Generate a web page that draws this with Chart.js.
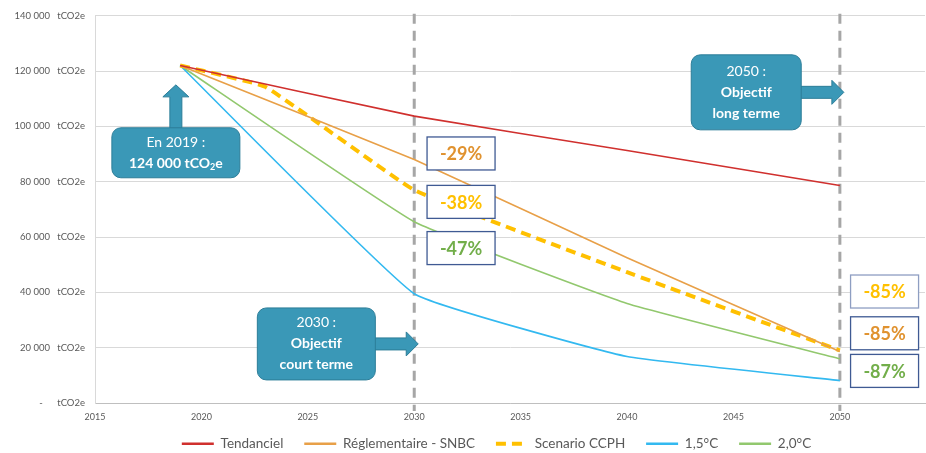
<!DOCTYPE html>
<html>
<head>
<meta charset="utf-8">
<script src="https://cdn.jsdelivr.net/npm/chart.js@4.4.0/dist/chart.umd.min.js"></script>
<style>
  html, body { margin: 0; padding: 0; background: #ffffff; }
  #wrap { width: 926px; height: 453px; }
</style>
</head>
<body>
<div id="wrap"><canvas id="myChart"></canvas></div>
<script>
// ============================================
// DATA
// ============================================

const yearsMain = [2019, 2030, 2040, 2050];
const yearsCCPH = [2019, 2023, 2030, 2040, 2050];

const tendanciel = [122000, 103700, 91300, 78600];
const reglementaire = [122000, 88000, 52500, 18600];
const scenarioCCPH = [122000, 114300, 77000, 47300, 19000];
const rechauffement15 = [122000, 39500, 16800, 8100];
const rechauffement20 = [122000, 65500, 36000, 16000];

const seriesLabels = ['Tendanciel', 'Réglementaire - SNBC', 'Scenario CCPH', '1,5°C', '2,0°C'];
const yTicks = [0, 20000, 40000, 60000, 80000, 100000, 120000, 140000];
const xTicks = [2015, 2020, 2025, 2030, 2035, 2040, 2045, 2050];
const objectiveYears = [2030, 2050];

// ============================================
// ANNOTATIONS
// ============================================

const TEAL = '#3A98B7';
const TEAL_DARK = '#2C7D98';
const ORANGE_TXT = '#E0922F';
const YELLOW = '#FFC000';
const GREEN_TXT = '#72AE4A';

const percentBoxes = [
    { text: '-29%', x: 2032.2, y: 90200, color: ORANGE_TXT, border: '#3F5A93' },
    { text: '-38%', x: 2032.2, y: 72700, color: YELLOW, border: '#3F5A93' },
    { text: '-47%', x: 2032.2, y: 56000, color: GREEN_TXT, border: '#3F5A93' },
    { text: '-85%', x: 2052.1, y: 40300, color: YELLOW, border: '#8E9EC2' },
    { text: '-85%', x: 2052.1, y: 25200, color: ORANGE_TXT, border: '#3F5A93' },
    { text: '-87%', x: 2052.1, y: 11600, color: GREEN_TXT, border: '#3F5A93' }
];

const callouts = [
    {
        x: 2018.8, y: 90450, w: 128, h: 50, arrow: 'up', tipY: 115000,
        lines: [[{ t: 'En 2019 :' }], [{ t: '124 000 tCO', b: true }, { t: '2', b: true, sub: true }, { t: 'e', b: true }]]
    },
    {
        x: 2025.4, y: 21350, w: 118, h: 72, arrow: 'right', tipX: 2030,
        lines: [[{ t: '2030 :' }], [{ t: 'Objectif', b: true }], [{ t: 'court terme', b: true }]]
    },
    {
        x: 2045.6, y: 112300, w: 110, h: 75, arrow: 'right', tipX: 2050,
        lines: [[{ t: '2050 :' }], [{ t: 'Objectif', b: true }], [{ t: 'long terme', b: true }]]
    }
];

function toPoints(xs, ys) {
    return xs.map((x, i) => ({ x: x, y: ys[i] }));
}

function fmtThousands(v) {
    return String(v).replace(/\B(?=(\d{3})+(?!\d))/g, ' ');
}

// vertical dashed lines at 2030 / 2050
const objectiveLines = {
    id: 'objectiveLines',
    beforeDatasetsDraw(chart) {
        const { ctx, chartArea, scales } = chart;
        ctx.save();
        ctx.strokeStyle = '#A6A6A6';
        ctx.lineWidth = 3;
        ctx.setLineDash([10, 7]);
        objectiveYears.forEach(yr => {
            const px = scales.x.getPixelForValue(yr);
            ctx.beginPath();
            ctx.moveTo(px, chartArea.top - 2);
            ctx.lineTo(px, chartArea.bottom + 8);
            ctx.stroke();
        });
        ctx.restore();
    }
};

// the legend sits a bit right of centre in the original
const legendShift = {
    id: 'legendShift',
    afterLayout(chart) {
        if (chart.legend) {
            chart.legend.left += 34;
            chart.legend.right += 34;
        }
    }
};

// percentage boxes + teal callouts
const annotations = {
    id: 'annotations',
    afterDraw(chart) {
        const { ctx, scales } = chart;
        const xs = scales.x, ys = scales.y;
        ctx.save();

        // percent boxes
        percentBoxes.forEach(b => {
            const cx = xs.getPixelForValue(b.x);
            const cy = ys.getPixelForValue(b.y);
            const w = 68, h = 33;
            ctx.fillStyle = '#ffffff';
            ctx.fillRect(cx - w / 2, cy - h / 2, w, h);
            ctx.strokeStyle = b.border;
            ctx.lineWidth = 1.3;
            ctx.strokeRect(cx - w / 2, cy - h / 2, w, h);
            ctx.fillStyle = b.color;
            ctx.font = 'bold 18px Lato';
            ctx.textAlign = 'center';
            ctx.textBaseline = 'middle';
            ctx.fillText(b.text, cx, cy + 1);
        });

        // teal callouts
        callouts.forEach(c => {
            const cx = xs.getPixelForValue(c.x);
            const cy = ys.getPixelForValue(c.y);
            const left = cx - c.w / 2, top = cy - c.h / 2;

            ctx.fillStyle = TEAL;
            ctx.strokeStyle = TEAL_DARK;
            ctx.lineWidth = 1;

            // arrow
            ctx.beginPath();
            if (c.arrow === 'up') {
                const tip = ys.getPixelForValue(c.tipY);
                const base = tip + 12;
                ctx.moveTo(cx - 6, top + 1);
                ctx.lineTo(cx - 6, base);
                ctx.lineTo(cx - 13, base);
                ctx.lineTo(cx, tip);
                ctx.lineTo(cx + 13, base);
                ctx.lineTo(cx + 6, base);
                ctx.lineTo(cx + 6, top + 1);
            } else {
                const tip = xs.getPixelForValue(c.tipX) + 4;
                const base = tip - 12;
                const r = left + c.w - 1;
                ctx.moveTo(r, cy - 6);
                ctx.lineTo(base, cy - 6);
                ctx.lineTo(base, cy - 12);
                ctx.lineTo(tip, cy);
                ctx.lineTo(base, cy + 12);
                ctx.lineTo(base, cy + 6);
                ctx.lineTo(r, cy + 6);
            }
            ctx.closePath();
            ctx.fill();
            ctx.stroke();

            // box
            ctx.beginPath();
            ctx.roundRect(left, top, c.w, c.h, 9);
            ctx.fill();
            ctx.stroke();

            // text
            ctx.fillStyle = '#ffffff';
            ctx.textAlign = 'left';
            ctx.textBaseline = 'middle';
            const lh = 21;
            const y0 = cy - (c.lines.length - 1) * lh / 2;
            c.lines.forEach((segs, i) => {
                const ly = y0 + i * lh;
                let total = 0;
                segs.forEach(s => {
                    ctx.font = (s.b ? 'bold ' : '') + (s.sub ? '9px' : '14px') + ' Lato';
                    total += ctx.measureText(s.t).width;
                });
                let px = cx - total / 2;
                segs.forEach(s => {
                    ctx.font = (s.b ? 'bold ' : '') + (s.sub ? '9px' : '14px') + ' Lato';
                    ctx.fillText(s.t, px, s.sub ? ly + 4 : ly);
                    px += ctx.measureText(s.t).width;
                });
            });
        });

        ctx.restore();
    }
};

// ============================================
// CREATE CHART
// ============================================

const ctx = document.getElementById('myChart');

function lineSet(label, xs, ys, color, width, dash) {
    return {
        label: label,
        data: toPoints(xs, ys),
        borderColor: color,
        backgroundColor: color,
        borderWidth: width,
        borderDash: dash || [],
        pointRadius: 0,
        pointStyle: 'line',
        tension: 0.1,
        fill: false
    };
}

new Chart(ctx, {
    type: 'line',
    data: {
        datasets: [
            lineSet(seriesLabels[0], yearsMain, tendanciel, '#D0302E', 1.6),
            lineSet(seriesLabels[1], yearsMain, reglementaire, '#E8A048', 1.6),
            lineSet(seriesLabels[2], yearsCCPH, scenarioCCPH, YELLOW, 4, [10, 6]),
            lineSet(seriesLabels[3], yearsMain, rechauffement15, '#33B9F0', 1.6),
            lineSet(seriesLabels[4], yearsMain, rechauffement20, '#92C86E', 1.6)
        ]
    },
    options: {
        responsive: true,
        maintainAspectRatio: false,
        animation: false,
        layout: {
            padding: { top: 11, right: 1, left: 0, bottom: 0 }
        },
        plugins: {
            legend: {
                position: 'bottom',
                maxHeight: 30,
                labels: {
                    usePointStyle: true,
                    pointStyleWidth: 32,
                    boxHeight: 8,
                    padding: 14,
                    color: '#595959',
                    font: { family: 'Lato', size: 13.5 },
                    generateLabels(chart) {
                        const items = Chart.defaults.plugins.legend.labels.generateLabels(chart);
                        items.forEach((it, i) => {
                            const ds = chart.data.datasets[it.datasetIndex];
                            it.lineWidth = ds.borderWidth > 2 ? 4 : 2.5;
                            it.lineDash = ds.borderDash;
                            it.strokeStyle = ds.borderColor;
                            it.fillStyle = ds.borderColor;
                            it.pointStyle = 'line';
                            if (i < items.length - 1) it.text = it.text + '  ';
                        });
                        return items;
                    }
                }
            },
            tooltip: { enabled: false }
        },
        scales: {
            x: {
                type: 'linear',
                min: 2015,
                max: 2054,
                afterBuildTicks(scale) {
                    scale.ticks = xTicks.map(v => ({ value: v }));
                },
                afterFit(scale) {
                    scale.height = 20;
                },
                ticks: {
                    color: '#595959',
                    font: { family: 'Lato', size: 9 },
                    padding: 9,
                    maxRotation: 0,
                    callback: v => String(v)
                },
                grid: { display: false, drawTicks: false },
                border: { color: '#BFBFBF' }
            },
            y: {
                min: 0,
                max: 140000,
                afterBuildTicks(scale) {
                    scale.ticks = yTicks.map(v => ({ value: v }));
                },
                afterFit(scale) {
                    scale.width = 95;
                },
                ticks: {
                    color: '#595959',
                    font: { family: 'Lato', size: 9.5 },
                    padding: 10,
                    callback: v => (v === 0 ? '-      tCO2e' : fmtThousands(v) + '   tCO2e')
                },
                grid: { color: '#D9D9D9', drawTicks: false },
                border: { color: '#D9D9D9' }
            }
        }
    },
    plugins: [objectiveLines, legendShift, annotations]
});
</script>
</body>
</html>
